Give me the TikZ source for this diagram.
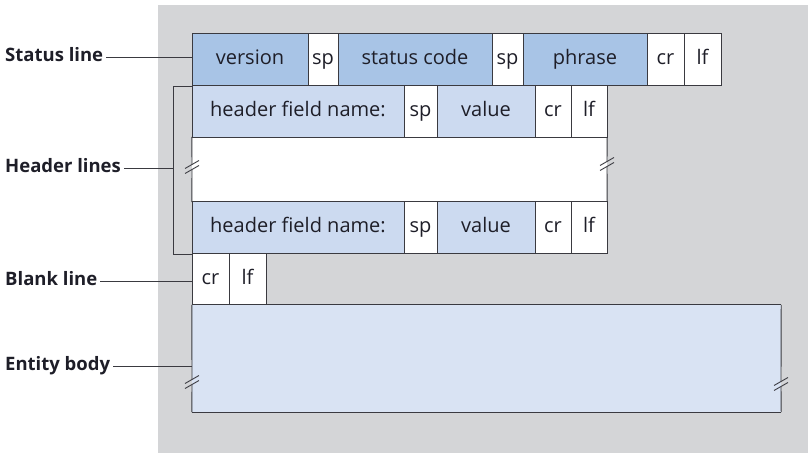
\documentclass[tikz,border=0pt]{standalone}
\usepackage{fontspec}
\setmainfont{Open Sans}
\definecolor{bgray}{HTML}{D4D5D7}
\definecolor{sblue}{HTML}{A8C4E6}
\definecolor{hblue}{HTML}{CCDAF0}
\definecolor{eblue}{HTML}{D9E3F3}
\definecolor{lcol}{HTML}{3A3A40}
\definecolor{tcol}{HTML}{1E1E28}
\tikzset{
  cell/.style={draw=lcol, line width=0.9pt, inner sep=0pt, minimum height=52pt, text height=14pt, text depth=4pt, font=\fontsize{20}{24}\selectfont, text=tcol, anchor=center},
  lab/.style={inner sep=0pt, anchor=west, text height=13pt, text depth=4pt, font=\bfseries\fontsize{18.5}{22}\selectfont, text=tcol},
  conn/.style={draw=lcol, line width=0.6pt},
  edge/.style={draw=lcol, line width=0.9pt}
}
\newcommand{\brkmark}[2]{%
  \draw[edge] (#1-7,#2+0.5) -- (#1+7,#2-7.5);
  \draw[edge] (#1-7,#2+5.5) -- (#1+7,#2-2.5);}
\begin{document}
\begin{tikzpicture}[x=1pt,y=-1pt]
\useasboundingbox (0,0) rectangle (808,453);
\fill[bgray] (158,5) rectangle (808,453);
% status line
\node[cell, fill=sblue, minimum width=116pt] (version) at (250,59) {version};
\node[cell, fill=white, minimum width=30pt] (sp1) at (323,59) {sp};
\node[cell, fill=sblue, minimum width=154pt] (scode) at (415,59) {status code};
\node[cell, fill=white, minimum width=31pt] (sp2) at (507.5,59) {sp};
\node[cell, fill=sblue, minimum width=124pt] (phrase) at (585,59) {phrase};
\node[cell, fill=white, minimum width=37pt] (cr0) at (665.5,59) {cr};
\node[cell, fill=white, minimum width=37pt] (lf0) at (702.5,59) {lf};
% header line 1
\node[cell, fill=hblue, minimum width=212pt] (hfn1) at (298,111) {header field name:};
\node[cell, fill=white, minimum width=33pt] (hsp1) at (420.5,111) {sp};
\node[cell, fill=hblue, minimum width=98pt] (val1) at (486,111) {value};
\node[cell, fill=white, minimum width=36pt] (hcr1) at (553,111) {cr};
\node[cell, fill=white, minimum width=36pt] (hlf1) at (589,111) {lf};
% gap
\node[fill=white, inner sep=0pt, minimum width=415pt, minimum height=65pt] (gap) at (399.5,169.5) {};
% header line 2
\node[cell, fill=hblue, minimum width=212pt] (hfn2) at (298,227.5) {header field name:};
\node[cell, fill=white, minimum width=33pt] (hsp2) at (420.5,227.5) {sp};
\node[cell, fill=hblue, minimum width=98pt] (val2) at (486,227.5) {value};
\node[cell, fill=white, minimum width=36pt] (hcr2) at (553,227.5) {cr};
\node[cell, fill=white, minimum width=36pt] (hlf2) at (589,227.5) {lf};
\draw[edge] (hfn1.south west) -- (hlf1.south east);
\draw[edge] (hfn2.north west) -- (hlf2.north east);
\draw[edge] (gap.north west) -- (192,164.5) (192,169.5) -- (gap.south west);
\draw[edge] (gap.north east) -- (607,161.5) (607,166.5) -- (gap.south east);
\brkmark{192}{168}
\brkmark{607}{165}
% blank line
\node[cell, fill=white, minimum width=37pt] (bcr) at (210.5,279) {cr};
\node[cell, fill=white, minimum width=37pt] (blf) at (247.5,279) {lf};
% entity body
\node[fill=eblue, inner sep=0pt, minimum width=589pt, minimum height=107pt] (body) at (486.5,358.5) {};
\draw[edge] (body.north west) -- (body.north east);
\draw[edge] (body.south west) -- (body.south east);
\draw[edge] (body.north west) -- (192,379.5) (192,384.5) -- (body.south west);
\draw[edge] (body.north east) -- (781,381.5) (781,386.5) -- (body.south east);
\brkmark{192}{383}
\brkmark{781}{385}
% bracket
\coordinate (brT) at (173,86);
\coordinate (brB) at (173,254);
\draw[conn] (brT -| hfn1.west) -- (brT) -- (brB) -- (brB -| hfn2.west);
% labels
\node[lab] (stl) at (5,57) {Status line};
\node[lab] (hdl) at (5,168) {Header lines};
\node[lab] (bll) at (5,281) {Blank line};
\node[lab] (enb) at (5,366) {Entity body};
\draw[conn] ([xshift=3pt]stl.east) -- (stl -| version.west);
\draw[conn] ([xshift=3pt]hdl.east) -- (hdl -| brT);
\draw[conn] ([xshift=3pt]bll.east) -- (bll -| bcr.west);
\draw[conn] ([xshift=3pt]enb.east) -- (enb -| body.west);
\end{tikzpicture}
\end{document}
